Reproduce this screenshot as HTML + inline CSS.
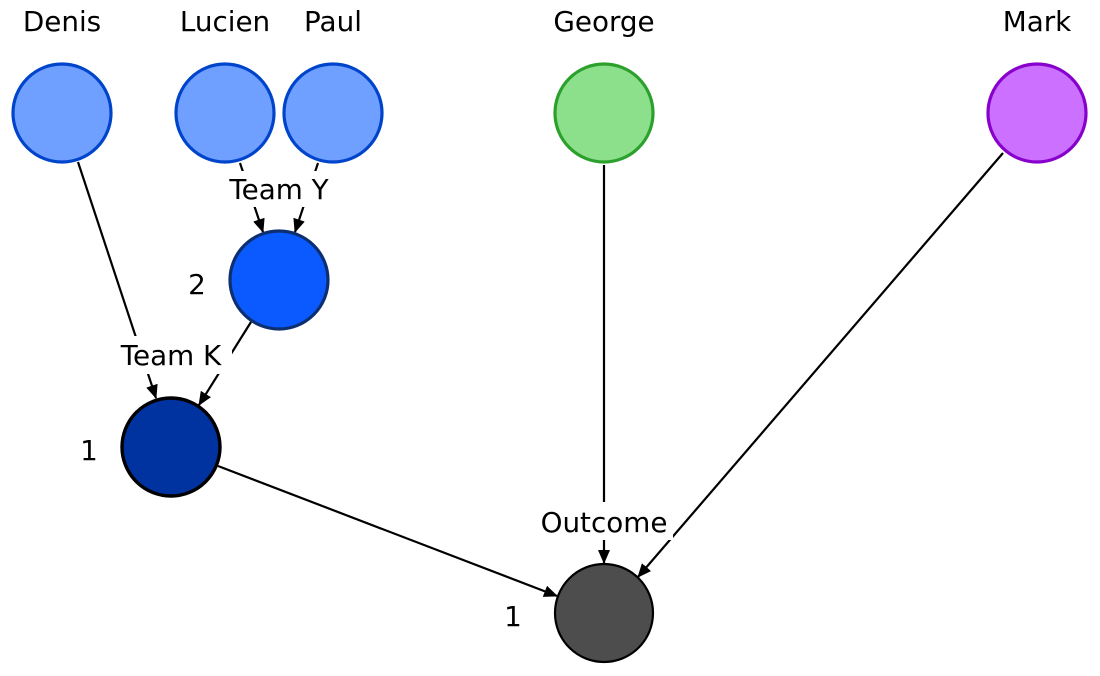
<!DOCTYPE html>
<html><head><meta charset="utf-8"><style>
html,body{margin:0;padding:0;background:#fff;}
svg{display:block;}
text{font-family:"DejaVu Sans","Liberation Sans",sans-serif;font-size:27.8px;fill:#000;}
</style></head><body>
<svg width="1100" height="676" viewBox="0 0 1100 676" xmlns="http://www.w3.org/2000/svg">
<defs><marker id="a" markerWidth="14" markerHeight="12" refX="13" refY="6" orient="auto" markerUnits="userSpaceOnUse"><path d="M0,0 L14,6 L0,12 z" fill="#000"/></marker></defs>
<g stroke="#000" stroke-width="2.2" fill="none">
<line x1="78" y1="162" x2="156" y2="398" marker-end="url(#a)"/>
<line x1="240" y1="163" x2="263" y2="232" marker-end="url(#a)"/>
<line x1="318" y1="163" x2="295" y2="232" marker-end="url(#a)"/>
<line x1="251" y1="322" x2="199" y2="405" marker-end="url(#a)"/>
<line x1="218" y1="466" x2="557" y2="596" marker-end="url(#a)"/>
<line x1="604" y1="165" x2="604" y2="563" marker-end="url(#a)"/>
<line x1="1003" y1="153" x2="638" y2="577" marker-end="url(#a)"/>
</g>
<rect x="222" y="171" width="114" height="36" fill="#fff"/>
<rect x="112" y="336" width="120" height="38" fill="#fff"/>
<rect x="535" y="502" width="138" height="38" fill="#fff"/>
<text x="279" y="199" text-anchor="middle">Team Y</text>
<text x="171" y="365" text-anchor="middle">Team K</text>
<text x="604" y="532" text-anchor="middle">Outcome</text>
<circle cx="62" cy="113" r="49" fill="#6fa0ff" stroke="#0044cc" stroke-width="3.2"/>
<circle cx="225" cy="113" r="49" fill="#6fa0ff" stroke="#0044cc" stroke-width="3.2"/>
<circle cx="333" cy="113" r="49" fill="#6fa0ff" stroke="#0044cc" stroke-width="3.2"/>
<circle cx="604" cy="113" r="49" fill="#8ce08c" stroke="#2ca02c" stroke-width="3.2"/>
<circle cx="1037" cy="113" r="49" fill="#cc70ff" stroke="#8800cc" stroke-width="3.2"/>
<circle cx="279" cy="280" r="49" fill="#0a5aff" stroke="#0d2f70" stroke-width="3.2"/>
<circle cx="171" cy="447" r="49" fill="#0033a0" stroke="#000" stroke-width="3.4"/>
<circle cx="604" cy="613" r="49" fill="#4d4d4d" stroke="#000" stroke-width="2.2"/>
<text x="62" y="31" text-anchor="middle">Denis</text>
<text x="225" y="31" text-anchor="middle">Lucien</text>
<text x="333" y="31" text-anchor="middle">Paul</text>
<text x="604" y="31" text-anchor="middle">George</text>
<text x="1037" y="31" text-anchor="middle">Mark</text>
<text x="197" y="294" text-anchor="middle">2</text>
<text x="89" y="460" text-anchor="middle">1</text>
<text x="513" y="626" text-anchor="middle">1</text>
</svg>
</body></html>
